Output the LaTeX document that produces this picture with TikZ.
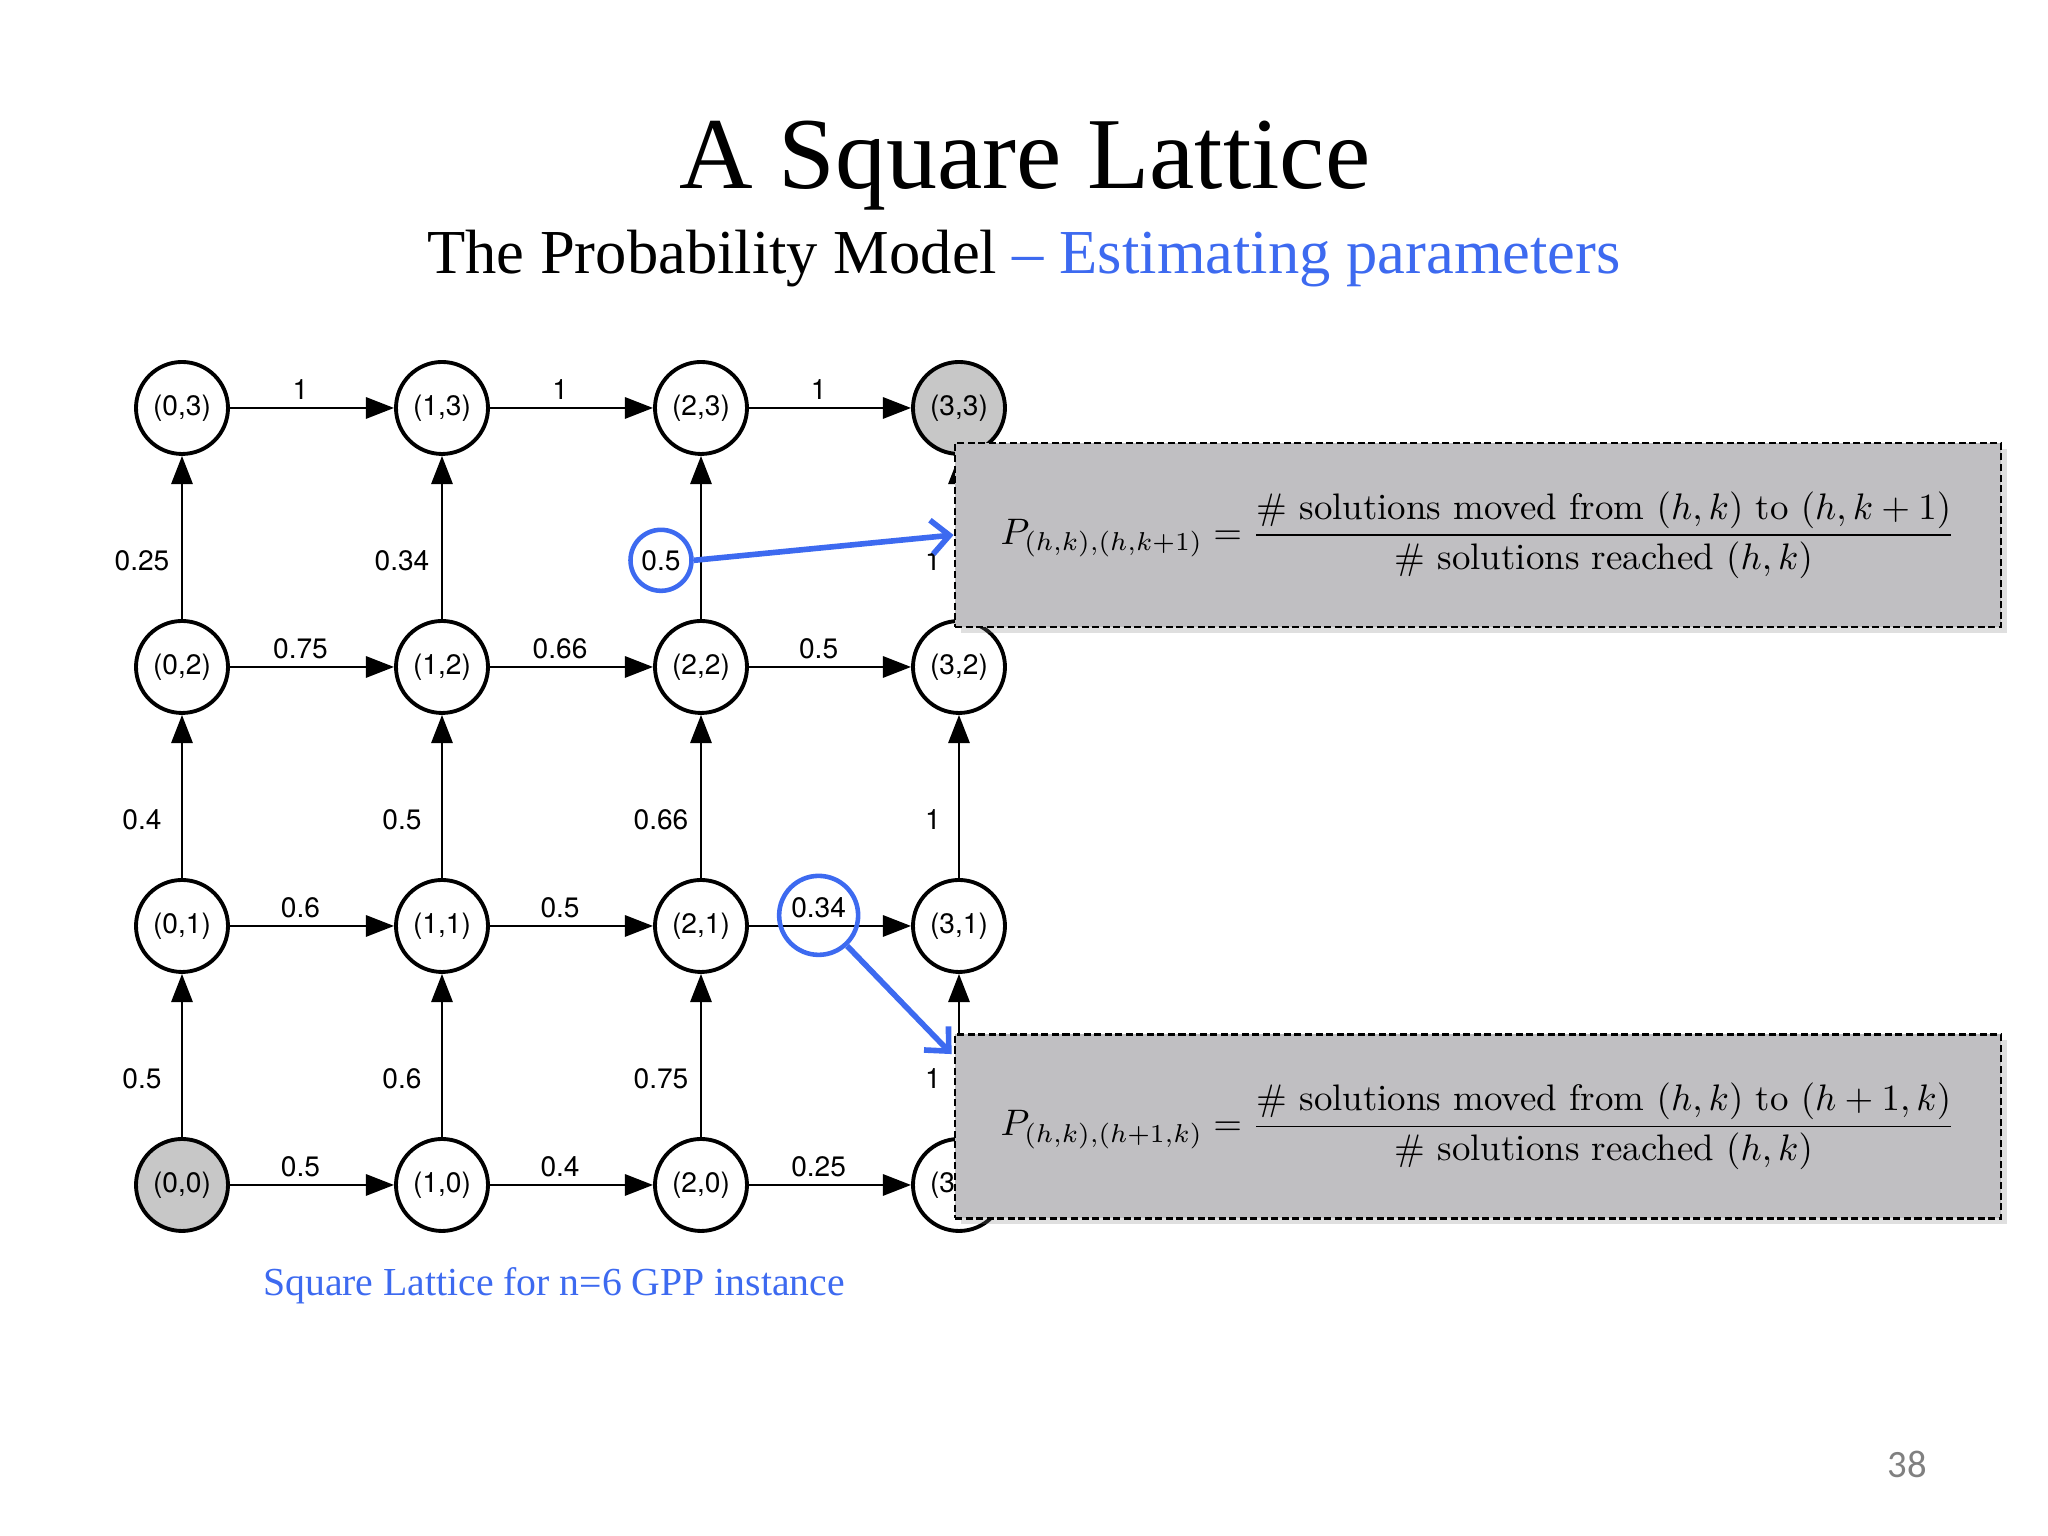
\RequirePackage{fix-cm}
\documentclass[tikz,border=0pt]{standalone}
\usepackage{amsmath,amssymb}
\usepackage{fontspec}
\newfontfamily\helv{TeX Gyre Heros}
\newfontfamily\slideserif{Liberation Serif}
\newfontfamily\pagefont{Carlito}
\usepackage{tikz}
\usetikzlibrary{positioning,calc,arrows.meta,shadows}
\definecolor{hiblue}{RGB}{61,106,240}
\definecolor{boxgray}{RGB}{192,191,194}

\begin{document}
\begin{tikzpicture}[every node/.style={font=\helv\fontsize{8}{9.6}\selectfont}]
            \tikzstyle{vtx}=[circle, draw, line width=1.1pt, fill=white, minimum size=9.2mm, inner sep=0pt]
            \tikzstyle{endvtx}=[vtx, fill=black!22]
            \tikzstyle{edge}=[line width=0.8pt, -{Triangle[length=8pt,width=6pt]}]
            \tikzstyle{hlab}=[above, inner sep=2pt, pos=0.43]
            \tikzstyle{vlab}=[pos=0.36, xshift=-0.4cm]
            \tikzstyle{formbox}=[rectangle, draw, line width=0.8pt, dash pattern=on 2pt off 1pt, fill=boxgray, minimum width=10.46cm, minimum height=1.84cm, font=\normalfont\fontsize{10.5}{12.6}\selectfont, drop shadow={shadow xshift=0.6mm, shadow yshift=-0.6mm, opacity=0.25}]
            \tikzstyle{hlring}=[circle, draw=hiblue, line width=1.3pt, inner sep=0pt]
            \tikzstyle{pointer}=[hiblue, line width=1.6pt, -{Straight Barb[length=1.8mm,width=3.4mm]}]

            \useasboundingbox (0,0) rectangle (20.48,15.36);

            % title
            \node[font=\slideserif\fontsize{29}{34}\selectfont, anchor=base] (title) at (10.25,13.47) {A Square Lattice};
            \node[font=\slideserif\fontsize{17.8}{21}\selectfont, anchor=base] (subtitle) at (10.24,12.62) {The Probability Model \textcolor{hiblue}{– Estimating parameters}};

            % lattice
            \node[endvtx] (v00) at (1.82,3.51) {(0,0)};
            \node[vtx] (v10) at (4.42,3.51) {(1,0)};
            \node[vtx] (v20) at (7.01,3.51) {(2,0)};
            \node[vtx] (v30) at (9.59,3.51) {(3,0)};

            \node[vtx] (v01) at (1.82,6.10) {(0,1)};
            \node[vtx] (v11) at (4.42,6.10) {(1,1)};
            \node[vtx] (v21) at (7.01,6.10) {(2,1)};
            \node[vtx] (v31) at (9.59,6.10) {(3,1)};

            \node[vtx] (v02) at (1.82,8.69) {(0,2)};
            \node[vtx] (v12) at (4.42,8.69) {(1,2)};
            \node[vtx] (v22) at (7.01,8.69) {(2,2)};
            \node[vtx] (v32) at (9.59,8.69) {(3,2)};

            \node[vtx] (v03) at (1.82,11.28) {(0,3)};
            \node[vtx] (v13) at (4.42,11.28) {(1,3)};
            \node[vtx] (v23) at (7.01,11.28) {(2,3)};
            \node[endvtx] (v33) at (9.59,11.28) {(3,3)};

            \draw[edge] (v00) -- node[hlab] {0.5} (v10);
            \draw[edge] (v10) -- node[hlab] {0.4} (v20);
            \draw[edge] (v20) -- node[hlab] {0.25} (v30);
            \draw[edge] (v01) -- node[hlab] {0.6} (v11);
            \draw[edge] (v11) -- node[hlab] {0.5} (v21);
            \draw[edge] (v21) -- node[hlab] (lx21) {0.34} (v31);
            \draw[edge] (v02) -- node[hlab] {0.75} (v12);
            \draw[edge] (v12) -- node[hlab] {0.66} (v22);
            \draw[edge] (v22) -- node[hlab] {0.5} (v32);
            \draw[edge] (v03) -- node[hlab] {1} (v13);
            \draw[edge] (v13) -- node[hlab] {1} (v23);
            \draw[edge] (v23) -- node[hlab] {1} (v33);

            \draw[edge] (v00) -- node[vlab] {0.5} (v01);
            \draw[edge] (v01) -- node[vlab] {0.4} (v02);
            \draw[edge] (v02) -- node[vlab] {0.25} (v03);
            \draw[edge] (v10) -- node[vlab] {0.6} (v11);
            \draw[edge] (v11) -- node[vlab] {0.5} (v12);
            \draw[edge] (v12) -- node[vlab] {0.34} (v13);
            \draw[edge] (v20) -- node[vlab] {0.75} (v21);
            \draw[edge] (v21) -- node[vlab] {0.66} (v22);
            \draw[edge] (v22) -- node[vlab] (ly22) {0.5} (v23);
            \draw[edge] (v30) -- node[vlab, xshift=0.14cm] {1} (v31);
            \draw[edge] (v31) -- node[vlab, xshift=0.14cm] {1} (v32);
            \draw[edge] (v32) -- node[vlab, xshift=0.14cm] {1} (v33);

            \node[font=\slideserif\fontsize{11.3}{14}\selectfont, text=hiblue, anchor=base] (caption) at (5.54,2.40) {Square Lattice for n=6 GPP instance};

            % estimates
            \node[formbox] (boxA) at (14.78,10.01) {$\displaystyle P_{(h,k),(h,k+1)} = \frac{\#\text{ solutions moved from }(h,k)\text{ to }(h,k+1)}{\#\text{ solutions reached }(h,k)}$};
            \node[formbox] (boxB) at (14.78,4.095) {$\displaystyle P_{(h,k),(h+1,k)} = \frac{\#\text{ solutions moved from }(h,k)\text{ to }(h+1,k)}{\#\text{ solutions reached }(h,k)}$};

            \node[hlring, minimum size=6.1mm] (ringA) at (ly22) {};
            \node[hlring, minimum size=7.9mm] (ringB) at ($(lx21)+(0,-0.08)$) {};
            \coordinate (tipB) at ($(boxB.north west)+(-0.02,-0.21)$);
            \draw[pointer] (ringA.east) -- (boxA.west);
            \draw[pointer] (ringB.-47) -- (tipB);

            \node[font=\pagefont\fontsize{11}{13}\selectfont, text=black!50] (pageno) at (19.07,0.72) {38};
        \end{tikzpicture}
\end{document}
